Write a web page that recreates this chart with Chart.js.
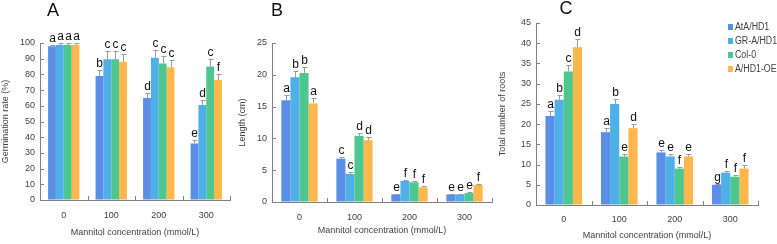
<!DOCTYPE html>
<html>
<head>
<meta charset="utf-8">
<script src="https://cdn.jsdelivr.net/npm/chart.js@4.4.1/dist/chart.umd.min.js"></script>
<style>
  body { margin: 0; background: #fff; }
  #wrap { position: relative; width: 777px; height: 244px; overflow: hidden; }
  canvas { position: absolute; top: 0; }
</style>
</head>
<body>
<div id="wrap">
  <canvas id="chartA" width="237" height="244" style="left:0px"></canvas>
  <canvas id="chartB" width="260" height="244" style="left:237px"></canvas>
  <canvas id="chartC" width="280" height="244" style="left:497px"></canvas>
</div>
<script>
// categories and series
var concentrations = ['0', '100', '200', '300'];
var lines = ['AtA/HD1', 'GR-A/HD1', 'Col-0', 'A/HD1-OE'];
var lineColors = ['#5b8ee6', '#4fb0e8', '#4dc78d', '#ffb64a'];

// A - germination rate (%)
var germAtA = [98, 79, 65, 36];
var germGR = [98.8, 89.6, 90.6, 60.5];
var germCol = [98.8, 89.6, 87, 85];
var germOE = [98.8, 88, 84.5, 76.4];
var germErrAtA = [1, 4, 3, 2.2];
var germErrGR = [1.2, 5, 5, 3];
var germErrCol = [1.2, 5, 5, 4.5];
var germErrOE = [1.2, 5, 4.5, 4];
var germSigAtA = ['a', 'b', 'd', 'e'];
var germSigGR = ['a', 'c', 'c', 'd'];
var germSigCol = ['a', 'c', 'c', 'c'];
var germSigOE = ['a', 'c', 'c', 'f'];

// B - length (cm)
var lenAtA = [16, 6.8, 1.2, 1.2];
var lenGR = [19.6, 4.4, 3.3, 1.2];
var lenCol = [20.3, 10.4, 3.1, 1.4];
var lenOE = [15.5, 9.7, 2.3, 2.7];
var lenErrAtA = [0.9, 0.3, 0.1, 0.1];
var lenErrGR = [1, 0.3, 0.2, 0.1];
var lenErrCol = [1, 0.5, 0.2, 0.15];
var lenErrOE = [0.9, 0.5, 0.2, 0.2];
var lenSigAtA = ['a', 'c', 'e', 'e'];
var lenSigGR = ['b', 'c', 'f', 'e'];
var lenSigCol = ['b', 'd', 'f', 'e'];
var lenSigOE = ['a', 'd', 'f', 'f'];

// C - total number of roots
var rootAtA = [22, 18, 13, 5];
var rootGR = [26, 25, 12, 8];
var rootCol = [33, 12, 9, 7];
var rootOE = [39, 19, 12, 9];
var rootErrAtA = [1.2, 1, 0.7, 0.3];
var rootErrGR = [1.3, 1.3, 0.7, 0.5];
var rootErrCol = [1.7, 0.6, 0.5, 0.4];
var rootErrOE = [2, 1, 0.6, 0.8];
var rootSigAtA = ['a', 'a', 'e', 'g'];
var rootSigGR = ['b', 'b', 'e', 'f'];
var rootSigCol = ['c', 'e', 'f', 'f'];
var rootSigOE = ['d', 'd', 'e', 'f'];

var sans = "'Liberation Sans', Arial, sans-serif";
Chart.defaults.font.family = sans;
Chart.defaults.font.size = 9;
Chart.defaults.color = '#404040';

// error bars (upper whisker) + significance letters
var barExtras = {
  id: 'barExtras',
  afterDatasetsDraw: function (chart) {
    var ctx = chart.ctx, y = chart.scales.y;
    ctx.save();
    chart.data.datasets.forEach(function (ds, i) {
      chart.getDatasetMeta(i).data.forEach(function (bar, j) {
        var top = Math.round(y.getPixelForValue(ds.data[j] + ds.errors[j])) + 0.5;
        var x = Math.round(bar.x) + 0.5;
        ctx.strokeStyle = '#9a9a9a';
        ctx.lineWidth = 1;
        ctx.beginPath();
        ctx.moveTo(x, bar.y);
        ctx.lineTo(x, top);
        ctx.moveTo(x - 2, top);
        ctx.lineTo(x + 3, top);
        ctx.stroke();
        ctx.fillStyle = '#111';
        ctx.font = "12px " + sans;
        ctx.textAlign = 'center';
        ctx.textBaseline = 'bottom';
        ctx.fillText(ds.letters[j], x, top - 1);
      });
    });
    ctx.restore();
  }
};

// inward tick marks like the original figure
var innerTicks = {
  id: 'innerTicks',
  afterDraw: function (chart) {
    var ctx = chart.ctx, x = chart.scales.x, y = chart.scales.y, a = chart.chartArea;
    ctx.save();
    ctx.strokeStyle = '#808080';
    ctx.lineWidth = 1;
    ctx.beginPath();
    y.ticks.forEach(function (t, k) {
      var py = Math.round(y.getPixelForTick(k)) + 0.5;
      ctx.moveTo(a.left, py);
      ctx.lineTo(a.left + 4, py);
    });
    for (var k = 1; k <= concentrations.length; k++) {
      var px = Math.round(x.getPixelForValue(k - 0.5)) + 0.5;
      ctx.moveTo(px, a.bottom);
      ctx.lineTo(px, a.bottom - 4);
    }
    ctx.stroke();
    ctx.restore();
  }
};

// big panel letter
var panelTag = {
  id: 'panelTag',
  afterDraw: function (chart, args, opts) {
    var ctx = chart.ctx;
    ctx.save();
    ctx.fillStyle = '#111';
    ctx.font = "18px " + sans;
    ctx.textAlign = 'center';
    ctx.textBaseline = 'middle';
    ctx.fillText(opts.text, opts.x, opts.y);
    ctx.restore();
  }
};

// legend drawn inside panel C (slightly condensed text, like the figure)
var boxLegend = {
  id: 'boxLegend',
  afterDraw: function (chart, args, opts) {
    if (!opts.show) return;
    var ctx = chart.ctx;
    ctx.save();
    ctx.font = "10px " + sans;
    ctx.textAlign = 'left';
    ctx.textBaseline = 'middle';
    chart.data.datasets.forEach(function (ds, i) {
      var cy = opts.y + i * 14;
      ctx.fillStyle = ds.backgroundColor;
      ctx.fillRect(opts.x, cy - 3, 5, 6);
      ctx.fillStyle = '#404040';
      var w = ctx.measureText(ds.label).width * 0.88;
      ctx.fillText(ds.label, opts.x + 7, cy, w);
    });
    ctx.restore();
  }
};

function makeSets(values, errors, letters) {
  return lines.map(function (name, i) {
    return {
      label: name,
      data: values[i],
      errors: errors[i],
      letters: letters[i],
      backgroundColor: lineColors[i],
      borderWidth: 0,
      categoryPercentage: 0.66,
      barPercentage: 1.0
    };
  });
}

function makeChart(id, sets, cfg) {
  return new Chart(document.getElementById(id), {
    type: 'bar',
    data: { labels: concentrations, datasets: sets },
    plugins: [barExtras, innerTicks, panelTag, boxLegend],
    options: {
      responsive: false,
      animation: false,
      layout: { padding: cfg.padding },
      plugins: {
        legend: { display: false },
        tooltip: { enabled: false },
        panelTag: cfg.tag,
        boxLegend: cfg.legend || { show: false }
      },
      scales: {
        x: {
          offset: true,
          grid: { display: false, drawTicks: false },
          border: { color: '#808080' },
          ticks: { padding: cfg.xPad, maxRotation: 0, minRotation: 0, autoSkip: false },
          title: { display: true, text: 'Mannitol concentration (mmol/L)', padding: 0 },
          afterFit: function (s) { s.height = cfg.xHeight; }
        },
        y: {
          min: 0,
          max: cfg.max,
          grid: { drawOnChartArea: false, drawTicks: false },
          border: { color: '#808080' },
          ticks: { stepSize: cfg.step, padding: 5 },
          title: { display: true, text: cfg.yTitle, padding: 0 },
          afterFit: function (s) { s.width = cfg.yWidth; }
        }
      }
    }
  });
}

makeChart('chartA',
  makeSets([germAtA, germGR, germCol, germOE],
           [germErrAtA, germErrGR, germErrCol, germErrOE],
           [germSigAtA, germSigGR, germSigCol, germSigOE]),
  { padding: { top: 43, right: 7, bottom: 6, left: 0 }, xHeight: 38, yWidth: 40, xPad: 10,
    max: 100, step: 10, yTitle: 'Germination rate (%)', tag: { text: 'A', x: 53, y: 11 } });

makeChart('chartB',
  makeSets([lenAtA, lenGR, lenCol, lenOE],
           [lenErrAtA, lenErrGR, lenErrCol, lenErrOE],
           [lenSigAtA, lenSigGR, lenSigCol, lenSigOE]),
  { padding: { top: 43, right: 5, bottom: 8, left: 0 }, xHeight: 34, yWidth: 35, xPad: 10,
    max: 25, step: 5, yTitle: 'Length (cm)', tag: { text: 'B', x: 40, y: 11 } });

makeChart('chartC',
  makeSets([rootAtA, rootGR, rootCol, rootOE],
           [rootErrAtA, rootErrGR, rootErrCol, rootErrOE],
           [rootSigAtA, rootSigGR, rootSigCol, rootSigOE]),
  { padding: { top: 23, right: 19, bottom: 3, left: 0 }, xHeight: 36, yWidth: 39, xPad: 9,
    max: 45, step: 5, yTitle: 'Total number of roots', tag: { text: 'C', x: 69, y: 9 },
    legend: { show: true, x: 231, y: 27 } });
</script>
</body>
</html>
